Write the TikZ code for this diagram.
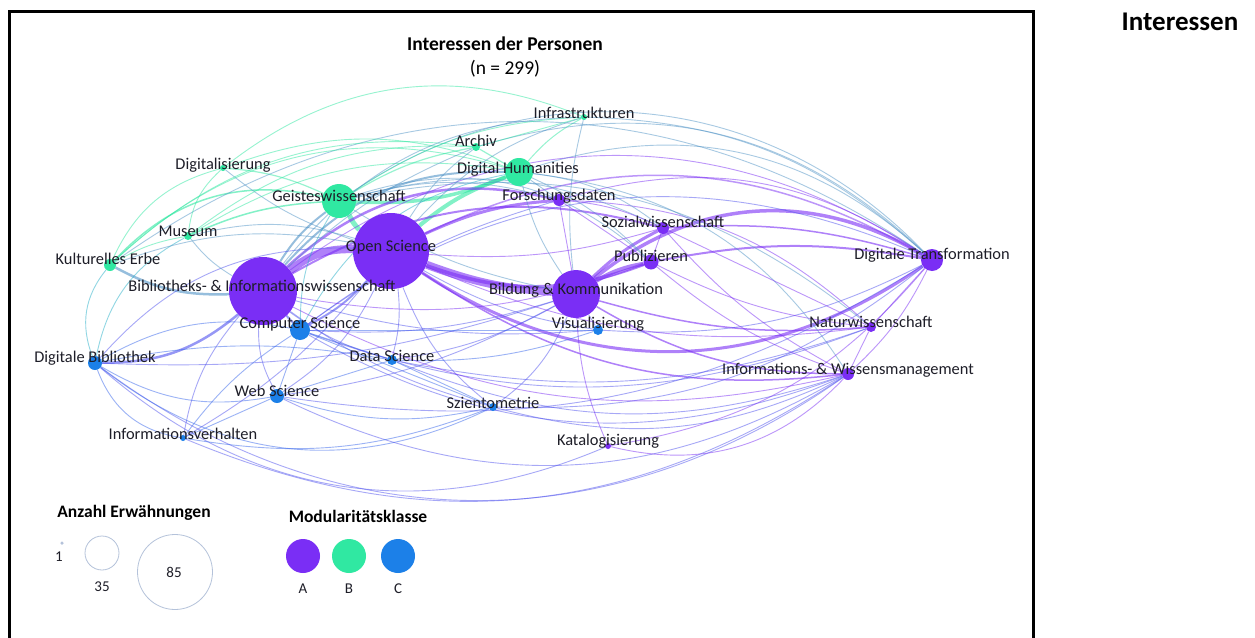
\documentclass[tikz,border=0pt]{standalone}
\usepackage{fontspec}
\setmainfont{Carlito}
\pgfdeclarelayer{bg}
\pgfdeclarelayer{edges}
\pgfdeclarelayer{labels}
\pgfsetlayers{bg,edges,main,labels}
\definecolor{cA}{HTML}{7A2EF5}
\definecolor{cB}{HTML}{30E8A2}
\definecolor{cC}{HTML}{1C80E8}
\definecolor{txt}{HTML}{1E1E28}
\definecolor{lgray}{HTML}{B4C2DA}
\colorlet{eA}{cA}
\colorlet{eB}{cB}
\colorlet{eC}{cC!70!cA}
\colorlet{eAB}{cA!45!cB}
\colorlet{eAC}{cA!55!cC}
\colorlet{eBC}{cB!45!cC}
\tikzset{
  dot/.style={circle, inner sep=0pt, draw=none},
  nA/.style={dot, fill=cA},
  nB/.style={dot, fill=cB},
  nC/.style={dot, fill=cC},
  lbl/.style={font=\fontsize{16.4}{18}\selectfont, text=txt, inner sep=0pt},
  ttl/.style={font=\fontsize{19.5}{22}\selectfont\bfseries, text=black, inner sep=0pt},
  lgt/.style={font=\fontsize{17.5}{20}\selectfont\bfseries, text=black, inner sep=0pt},
  lgn/.style={font=\fontsize{15}{17}\selectfont, text=txt, inner sep=0pt},
  ed/.style={line width=0.9pt, draw opacity=0.5},
  ea/.style={ed, draw=eA},
  eb/.style={ed, draw=eB},
  ec/.style={ed, draw=eC},
  eab/.style={ed, draw=eAB},
  eac/.style={ed, draw=eAC},
  ebc/.style={ed, draw=eBC},
  thick1/.style={draw opacity=0.6},
}
\begin{document}
\begin{tikzpicture}[x=1pt, y=-1pt]
\useasboundingbox (0,0) rectangle (1255,637);
\begin{pgfonlayer}{bg}
\fill[white] (0,0) rectangle (1255,637);
\end{pgfonlayer}
% frame
\draw[line width=3pt] (9,645) -- (9,11) -- (1033,11) -- (1033,645);
% nodes
\node[nA, minimum size=76pt] (OS) at (391,251) {};
\node[nA, minimum size=68pt] (BI) at (263,291) {};
\node[nA, minimum size=48pt] (BK) at (576,294) {};
\node[nB, minimum size=34pt] (GW) at (339,201) {};
\node[nB, minimum size=28pt] (DH) at (519,172) {};
\node[nC, minimum size=20pt] (CS) at (300,330) {};
\node[nA, minimum size=22pt] (DT) at (932,260) {};
\node[nA, minimum size=15pt] (PU) at (651,262) {};
\node[nA, minimum size=12pt] (SW) at (663,228) {};
\node[nA, minimum size=12pt] (FD) at (559,200) {};
\node[nC, minimum size=10pt] (VI) at (598,330) {};
\node[nC, minimum size=10pt] (DS) at (392,360) {};
\node[nC, minimum size=14pt] (DB) at (95,363) {};
\node[nC, minimum size=14pt] (WS) at (277,396) {};
\node[nC, minimum size=6pt] (IV) at (183,438) {};
\node[nC, minimum size=8pt] (SZ) at (493,407) {};
\node[nA, minimum size=6pt] (KA) at (608,446) {};
\node[nA, minimum size=10pt] (NW) at (871,327) {};
\node[nA, minimum size=12pt] (IW) at (848,374) {};
\node[nB, minimum size=12pt] (KE) at (110,265) {};
\node[nB, minimum size=8pt] (MU) at (188,236) {};
\node[nB, minimum size=6pt] (DI) at (223,168) {};
\node[nB, minimum size=8pt] (AR) at (476,147) {};
\node[nB, minimum size=6pt] (IN) at (584,117) {};
\begin{pgfonlayer}{edges}
% thick edges
\draw[ea, thick1, line width=8pt] (BI) to[bend left=20] (OS);
\draw[ea, thick1, line width=8pt] (OS) to[bend right=8] (BK);
\draw[ea, thick1, line width=3.5pt] (OS) to[bend right=20] (PU);
\draw[ea, thick1, line width=3.5pt] (BK) to[bend left=35] (DT);
\draw[ea, thick1, line width=3pt] (OS) to[bend right=34] (DT);
\draw[eb, thick1, line width=5pt] (GW) to[bend right=10] (OS);
\draw[eb, thick1, line width=3.5pt] (GW) to[bend right=12] (DH);
\draw[eb, thick1, line width=4pt] (OS) to[bend left=10] (DH);
\draw[ea, thick1, line width=3pt] (OS) to[bend left=10] (FD);
\draw[ea, thick1, line width=2.5pt] (BI) to[bend left=28] (FD);
\draw[eab, thick1, line width=2pt] (BI) to[bend left=25] (DH);
\draw[ea, thick1, line width=2pt] (BI) to[bend left=22] (SW);
\draw[ea, thick1, line width=4pt] (BK) to[bend left=10] (PU);
\draw[ea, thick1, line width=3pt] (BK) to[bend left=8] (SW);
\draw[eab, thick1, line width=2.5pt] (KE) to[bend right=15] (BI);
\draw[eac, thick1, line width=2.5pt] (DB) to[bend right=20] (BI);
\draw[eac, thick1, line width=2pt] (CS) to (BI);
\draw[eac, thick1, line width=2pt] (CS) to[bend right=10] (OS);
\draw[ea, thick1, line width=2pt] (PU) to[bend left=10] (DT);
\draw[ea, thick1, line width=1.5pt] (SW) to[bend left=10] (DT);
\draw[ea, thick1, line width=1.5pt] (BK) to[bend right=10] (NW);
\draw[ea, thick1, line width=1.5pt] (OS) to[bend right=20] (IW);
\draw[ea, thick1, line width=1.5pt] (BK) to[bend right=15] (IW);
\draw[eab, thick1, line width=2pt] (GW) to[bend right=10] (BI);
\draw[eb, thick1, line width=1.5pt] (KE) to[bend left=30] (GW);
\draw[eb, thick1, line width=1.5pt] (MU) to[bend left=10] (GW);
\draw[eb, line width=1.2pt] (DI) to[bend left=10] (GW);
\draw[eb, line width=1.2pt] (AR) to[bend right=10] (GW);
\draw[eb, line width=1.2pt] (DH) to (AR);
\draw[eb, line width=1pt] (IN) to[bend right=10] (DH);
% top arcs to DT
\draw[eab] (GW) to[bend left=40] (DT);
\draw[eab] (DH) to[bend left=30] (DT);
\draw[ea] (FD) to[bend left=25] (DT);
\draw[ea] (BI) to[bend left=35] (DT);
\draw[ea, line width=1.5pt] (OS) to[bend left=28] (DT);
\draw[eac] (CS) to[bend left=30] (DT);
\draw[eab] (AR) to[bend left=30] (DT);
\draw[eab] (KE) to[bend left=35] (DT);
\draw[eab] (IN) to[bend left=20] (DT);
\draw[eab] (GW) to[bend left=30] (PU);
\draw[ea] (FD) to[bend left=20] (NW);
\draw[eab] (DH) to[bend left=25] (IW);
\draw[eab] (GW) to[bend left=25] (NW);
% bottom arcs
\draw[eac] (DB) to[bend right=36] (IW);
\draw[eac] (IV) to[bend right=28] (IW);
\draw[ec] (DB) to[bend right=32] (SZ);
\draw[eac] (DB) to[bend right=32] (KA);
\draw[eac] (WS) to[bend right=28] (IW);
\draw[ec] (DB) to[bend right=20] (WS);
\draw[ec] (DB) to[bend right=30] (IV);
\draw[ec] (IV) to[bend right=15] (SZ);
\draw[ec] (WS) to[bend right=15] (SZ);
\draw[eac] (SZ) to[bend right=20] (IW);
\draw[ea] (KA) to[bend right=30] (IW);
\draw[eac] (CS) to[bend right=25] (IW);
\draw[eac] (DS) to[bend right=20] (IW);
\draw[eac] (SZ) to[bend right=20] (DT);
\draw[eac] (WS) to[bend right=20] (DT);
\draw[eac] (VI) to[bend right=15] (DT);
\draw[eac] (DS) to[bend right=15] (NW);
\draw[eac] (CS) to[bend right=20] (NW);
% blue cluster
\draw[ec] (DB) to[bend left=20] (CS);
\draw[eac] (DB) to[bend left=25] (OS);
\draw[ec] (DB) to[bend left=10] (DS);
\draw[eac] (DB) to[bend right=10] (BK);
\draw[ebc] (DB) to[bend left=30] (KE);
\draw[ebc] (DB) to[bend left=25] (MU);
\draw[ec] (WS) to (CS);
\draw[eac] (WS) to[bend left=15] (BI);
\draw[eac] (WS) to[bend right=15] (OS);
\draw[ec] (WS) to (DS);
\draw[eac] (WS) to[bend right=10] (BK);
\draw[eac] (IV) to[bend left=15] (BI);
\draw[ec] (IV) to (WS);
\draw[eac] (IV) to[bend right=10] (OS);
\draw[ec] (IV) to[bend left=10] (CS);
\draw[eac] (SZ) to[bend left=15] (OS);
\draw[eac] (SZ) to[bend left=10] (BI);
\draw[ec] (SZ) to (CS);
\draw[eac] (SZ) to[bend right=15] (BK);
\draw[ec] (SZ) to (DS);
\draw[ec] (DS) to (CS);
\draw[eac] (DS) to[bend right=10] (OS);
\draw[eac] (DS) to[bend left=10] (BI);
\draw[eac] (DS) to[bend right=10] (BK);
\draw[ec] (DS) to[bend right=10] (VI);
\draw[eac] (VI) to[bend left=10] (OS);
\draw[eac] (VI) to (BK);
\draw[eac] (VI) to[bend left=10] (BI);
\draw[ec] (VI) to (CS);
\draw[eac] (CS) to[bend right=10] (BK);
\draw[ebc] (CS) to[bend left=15] (GW);
\draw[ebc] (CS) to[bend left=25] (DH);
\draw[eac] (CS) to[bend left=10] (FD);
% green cluster
\draw[eb] (DI) to[bend left=20] (DH);
\draw[eb] (DI) to[bend right=20] (MU);
\draw[eab] (DI) to[bend right=10] (OS);
\draw[eb] (DI) to[bend right=25] (KE);
\draw[eab] (MU) to[bend left=15] (OS);
\draw[eab] (MU) to[bend right=10] (BI);
\draw[eb] (MU) to[bend left=20] (DH);
\draw[eab] (KE) to[bend left=15] (OS);
\draw[eb] (KE) to[bend left=30] (DH);
\draw[eb] (KE) to[bend left=10] (MU);
\draw[eab] (AR) to[bend right=10] (OS);
\draw[eab] (AR) to[bend right=10] (BI);
\draw[eb] (AR) to[bend right=25] (KE);
\draw[eb] (AR) to[bend right=20] (MU);
\draw[eb] (IN) to[bend right=15] (GW);
\draw[eab] (IN) to[bend right=15] (OS);
\draw[eb] (IN) to (AR);
\draw[eab] (IN) to[bend right=25] (BI);
\draw[eb] (IN) to[bend right=30] (DI);
\draw[eab] (IN) to[bend right=10] (BK);
\draw[eab] (DH) to (FD);
\draw[eab] (DH) to[bend right=10] (BK);
\draw[eab] (DH) to[bend left=10] (PU);
\draw[eab] (DH) to[bend left=15] (SW);
\draw[eab] (GW) to[bend left=15] (FD);
\draw[eab] (GW) to[bend right=10] (BK);
\draw[eab] (GW) to[bend left=20] (SW);
% purple cluster
\draw[ea] (FD) to (BK);
\draw[ea] (FD) to[bend left=10] (SW);
\draw[ea] (FD) to (PU);
\draw[ea] (SW) to (PU);
\draw[ea] (OS) to[bend right=10] (SW);
\draw[ea] (PU) to[bend right=10] (NW);
\draw[ea] (PU) to[bend right=10] (IW);
\draw[ea] (SW) to[bend right=10] (IW);
\draw[ea] (SW) to (NW);
\draw[ea] (NW) to (DT);
\draw[ea] (IW) to[bend right=10] (DT);
\draw[ea] (IW) to (NW);
\draw[ea] (BK) to[bend right=10] (KA);
\draw[ea] (KA) to[bend right=20] (DT);
\draw[ea] (BI) to[bend right=20] (IW);
\draw[ea] (BI) to[bend right=15] (PU);
\draw[ea] (OS) to[bend right=15] (NW);
\end{pgfonlayer}
\begin{pgfonlayer}{labels}
\node[ttl] (title) at (505,44) {Interessen der Personen};
\node[font=\fontsize{19.5}{22}\selectfont, inner sep=0pt] (n) at (505,69) {(n = 299)};
\node[font=\fontsize{27}{30}\selectfont\bfseries, inner sep=0pt] (side) at (1180,22) {Interessen};
\node[lbl] (INt) at (584,113) {Infrastrukturen};
\node[lbl] (ARt) at (476,141) {Archiv};
\node[lbl] (DHt) at (518,169) {Digital Humanities};
\node[lbl] (DIt) at (223,165) {Digitalisierung};
\node[lbl] (GWt) at (339,196) {Geisteswissenschaft};
\node[lbl] (FDt) at (559,196) {Forschungsdaten};
\node[lbl] (SWt) at (663,222) {Sozialwissenschaft};
\node[lbl] (MUt) at (188,231) {Museum};
\node[lbl] (OSt) at (391,247) {Open Science};
\node[lbl] (PUt) at (651,256) {Publizieren};
\node[lbl] (DTt) at (932,255) {Digitale Transformation};
\node[lbl] (KEt) at (108,259) {Kulturelles Erbe};
\node[lbl] (BIt) at (262,286) {Bibliotheks- \& Informationswissenschaft};
\node[lbl] (BKt) at (576,290) {Bildung \& Kommunikation};
\node[lbl] (CSt) at (300,324) {Computer Science};
\node[lbl] (VIt) at (598,324) {Visualisierung};
\node[lbl] (NWt) at (871,322) {Naturwissenschaft};
\node[lbl] (DBt) at (95,358) {Digitale Bibliothek};
\node[lbl] (DSt) at (392,356) {Data Science};
\node[lbl] (IWt) at (848,370) {Informations- \& Wissensmanagement};
\node[lbl] (WSt) at (277,391) {Web Science};
\node[lbl] (SZt) at (493,403) {Szientometrie};
\node[lbl] (IVt) at (183,434) {Informationsverhalten};
\node[lbl] (KAt) at (608,441) {Katalogisierung};
% legend
\node[lgt] (lg1) at (134,513) {Anzahl Erwähnungen};
\node[circle, fill=lgray, inner sep=0pt, minimum size=3.5pt] (s1) at (62,543) {};
\node[lgn] (s1t) at (59,557) {1};
\node[circle, draw=lgray, line width=0.8pt, inner sep=0pt, minimum size=34pt] (s35) at (102,553) {};
\node[lgn] (s35t) at (102,587) {35};
\node[circle, draw=lgray, line width=0.8pt, inner sep=0pt, minimum size=75pt] (s85) at (175,572) {};
\node[lgn] (s85t) at (174,572) {85};
\node[lgt] (lg2) at (358,516) {Modularitätsklasse};
\node[nA, minimum size=34pt] (mA) at (303,556) {};
\node[nB, minimum size=34pt] (mB) at (349,556) {};
\node[nC, minimum size=34pt] (mC) at (398,556) {};
\node[lgn] (mAt) at (303,589) {A};
\node[lgn] (mBt) at (349,589) {B};
\node[lgn] (mCt) at (398,589) {C};
\end{pgfonlayer}
\end{tikzpicture}
\end{document}
